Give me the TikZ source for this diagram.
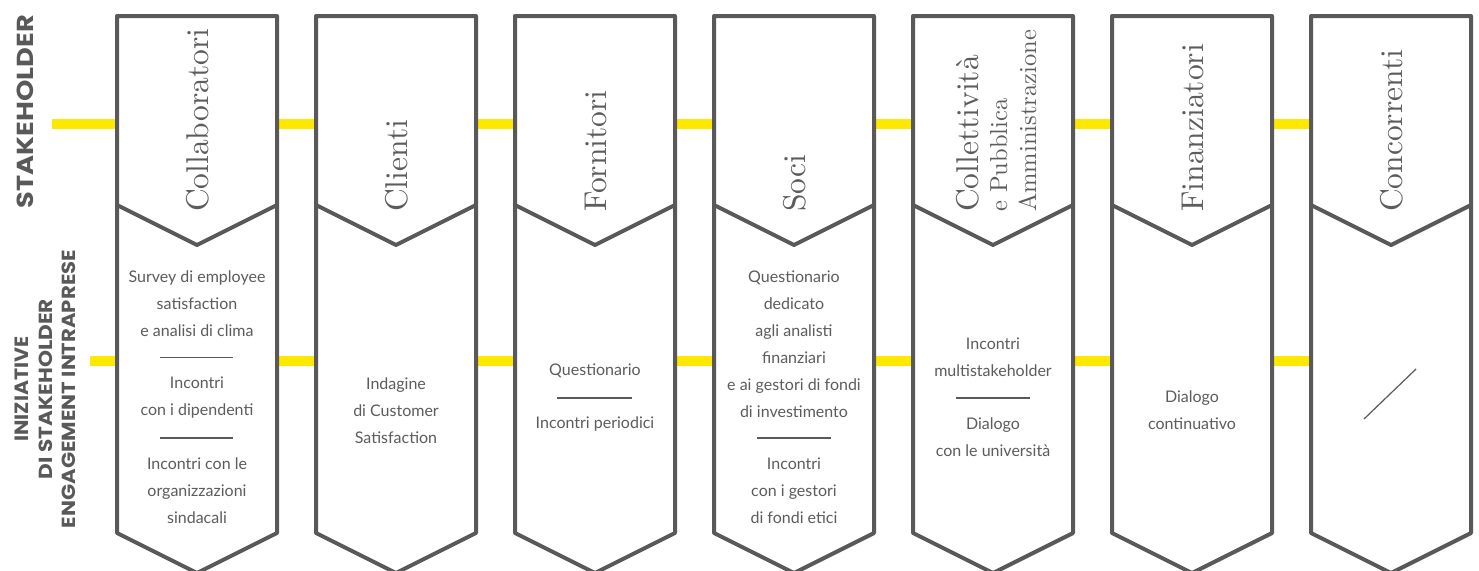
\documentclass[tikz,border=0pt]{standalone}
\usepackage{fontspec}
\usepackage{graphicx}
\newfontfamily\bodyfont{Lato}
\newfontfamily\labelfont{Poppins}
\newfontfamily\titlefont{lmroman10-regular.otf}
\definecolor{ylw}{RGB}{255,232,0}
\definecolor{frame}{RGB}{89,89,89}
\definecolor{txt}{RGB}{92,92,92}
\begin{document}
\begin{tikzpicture}[x=1pt,y=-1pt,
  colbox/.style={draw=frame, line width=4pt, fill=white, line join=round},
  chev/.style={draw=frame, line width=4pt, line join=round},
  title/.style={rotate=90, anchor=base west, text=txt, inner sep=0pt, font=\titlefont\fontsize{31.5}{31.5}\selectfont},
  subtitle/.style={rotate=90, anchor=base west, text=txt, inner sep=0pt, font=\titlefont\fontsize{24.5}{24.5}\selectfont},
  body/.style={align=center, text=txt, inner sep=0pt, font=\bodyfont\fontsize{16}{27}\selectfont},
  sepline/.style={draw=frame, line width=1.5pt},
  yline/.style={draw=ylw, line width=10pt},
  sidelabel/.style={rotate=90, align=center, text=frame, inner sep=0pt, font=\labelfont\bfseries\fontsize{18}{23.8}\selectfont}
]
\useasboundingbox (0,0) rectangle (1479,570);
% yellow lines
\coordinate (yTopA) at (52,124);
\coordinate (yTopB) at (1311,124);
\coordinate (yBotA) at (90,361);
\coordinate (yBotB) at (1311,361);
\draw[yline] (yTopA) -- (yTopB);
\draw[yline] (yBotA) -- (yBotB);
% columns
\foreach \L in {117,316,515,714,913,1112,1311}{
  \draw[colbox] (\L,16) -- ({\L+160},16) -- ({\L+160},533) -- ({\L+80},573) -- (\L,533) -- cycle;
  \draw[chev] (\L,205) -- ({\L+80},245) -- ({\L+160},205);
}
% side labels
\node[sidelabel] (lblStake) at (25,111.5) {\resizebox{193pt}{16.5pt}{STAKEHOLDER}};
\node[sidelabel] (lblInit) at (45.5,389) {\resizebox{105pt}{13.5pt}{INIZIATIVE}\\\resizebox{180pt}{13.5pt}{DI STAKEHOLDER}\\\resizebox{278pt}{13.5pt}{ENGAGEMENT INTRAPRESE}};
% titles
\node[title] (tCol) at (208,212) {Collaboratori};
\node[title] (tCli) at (407,212) {Clienti};
\node[title] (tFor) at (606,212) {Fornitori};
\node[title] (tSoc) at (805,212) {Soci};
\node[title] (tCle) at (978,212) {Collettività};
\node[subtitle] (tCle2) at (1007,212) {e Pubblica};
\node[subtitle] (tCle3) at (1036,212) {Amministrazione};
\node[title] (tFin) at (1203,212) {Finanziatori};
\node[title] (tCon) at (1402,212) {Concorrenti};
% column 1
\node[body] (c1a) at (197,304) {Survey di employee\\satisfaction\\e analisi di clima};
\draw[sepline] (160,357.5) -- (233,357.5);
\node[body] (c1b) at (197,397.5) {Incontri\\con i dipendenti};
\draw[sepline] (160,438) -- (233,438);
\node[body] (c1c) at (197,491) {Incontri con le\\organizzazioni\\sindacali};
% column 2
\node[body] (c2a) at (396,411) {Indagine\\di Customer\\Satisfaction};
% column 3
\node[body] (c3a) at (595,371) {Questionario};
\draw[sepline] (557,398) -- (632,398);
\node[body] (c3b) at (595,424) {Incontri periodici};
% column 4
\node[body] (c4a) at (794,344) {Questionario\\dedicato\\agli analisti\\finanziari\\e ai gestori di fondi\\di investimento};
\draw[sepline] (757,438) -- (831,438);
\node[body] (c4b) at (794,491) {Incontri\\con i gestori\\di fondi etici};
% column 5
\node[body] (c5a) at (993,357.5) {Incontri\\multistakeholder};
\draw[sepline] (956,398) -- (1030,398);
\node[body] (c5b) at (993,437.5) {Dialogo\\con le università};
% column 6
\node[body] (c6a) at (1192,410.5) {Dialogo\\continuativo};
% column 7
\coordinate (dA) at (1364,419);
\coordinate (dB) at (1416,369);
\draw[sepline, line width=1.2pt] (dA) -- (dB);
\end{tikzpicture}
\end{document}
